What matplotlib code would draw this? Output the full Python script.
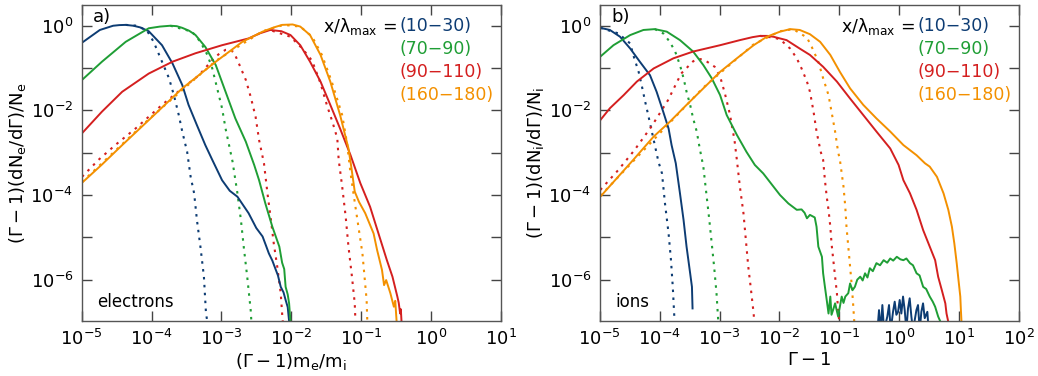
import numpy as np
import matplotlib
matplotlib.use("Agg")
import matplotlib.pyplot as plt

plt.rcParams["font.family"] = ["DejaVu Sans"]
plt.rcParams["mathtext.fontset"] = "dejavusans"
plt.rcParams["mathtext.default"] = "regular"

# Colours of the four x/lambda_max windows
c_blue, c_green, c_red, c_orange = "#0d3c73", "#1f9e35", "#d41f1f", "#f39000"
windows = ["(10\u221230)", "(70\u221290)", "(90\u2212110)", "(160\u2212180)"]

# ---- data, stored as log10(x), log10(y) ----
# panel a) electrons
ele_blue_lx = [-4.995, -4.74, -4.55, -4.46, -4.37, -4.26, -4.16, -4.04, -3.85, -3.70, -3.56, -3.47, -3.35, -3.23, -3.13,
               -2.99, -2.88, -2.77, -2.61, -2.50, -2.41, -2.36, -2.32, -2.27, -2.22, -2.19, -2.15, -2.11, -2.08, -2.05, -2.03]
ele_blue_ly = [-0.40, -0.10, 0.0, 0.015, 0.02, 0.0, -0.04, -0.13, -0.46, -0.89, -1.40, -1.87, -2.35, -2.82, -3.17,
               -3.65, -3.90, -4.04, -4.43, -4.78, -4.98, -5.20, -5.38, -5.55, -5.77, -5.90, -6.17, -6.30, -6.48, -6.65, -6.98]
ele_blue_fit_lx = [-4.37, -4.20, -4.06, -3.97, -3.85, -3.75, -3.68, -3.61, -3.56, -3.49, -3.44, -3.39, -3.35, -3.30, -3.25, -3.22, -3.20]
ele_blue_fit_ly = [0.02, 0.0, -0.13, -0.38, -0.85, -1.24, -1.64, -2.11, -2.50, -2.98, -3.57, -3.96, -4.59, -5.22, -5.93, -6.80, -7.00]

ele_green_lx = [-4.995, -4.71, -4.37, -4.04, -3.88, -3.73, -3.64, -3.56, -3.46, -3.37, -3.23, -3.08, -2.94, -2.80, -2.65,
                -2.53, -2.46, -2.37, -2.27, -2.17, -2.13, -2.10, -2.08, -2.05, -2.03, -2.01]
ele_green_ly = [-1.28, -0.85, -0.38, -0.06, -0.02, 0.0, -0.01, -0.05, -0.12, -0.22, -0.50, -0.93, -1.56, -2.19, -2.74,
                -3.29, -3.65, -4.20, -4.75, -5.22, -5.60, -5.75, -6.17, -6.35, -6.56, -7.00]
ele_green_fit_lx = [-3.73, -3.42, -3.30, -3.20, -3.13, -3.06, -2.99, -2.94, -2.89, -2.84, -2.77, -2.72, -2.68, -2.63, -2.58, -2.57]
ele_green_fit_ly = [0.0, -0.14, -0.38, -0.69, -1.01, -1.48, -1.95, -2.43, -2.82, -3.21, -3.96, -4.59, -5.22, -5.93, -6.72, -7.00]

ele_red_lx = [-4.995, -4.71, -4.42, -4.04, -3.70, -3.37, -2.99, -2.61, -2.45, -2.30, -2.14, -2.01, -1.87, -1.73, -1.58,
              -1.44, -1.30, -1.15, -1.01, -0.87, -0.75, -0.63, -0.55, -0.48, -0.46, -0.44, -0.43, -0.42]
ele_red_ly = [-2.54, -2.03, -1.56, -1.13, -0.85, -0.65, -0.46, -0.30, -0.18, -0.10, -0.13, -0.22, -0.46, -0.85, -1.32,
              -1.87, -2.43, -3.06, -3.72, -4.28, -4.91, -5.54, -5.93, -6.40, -6.55, -6.80, -6.70, -7.00]
ele_red_fit1_lx = [-4.995, -4.76, -4.52, -4.23, -3.85, -3.56, -3.32, -3.13, -3.03, -2.94, -2.88, -2.82, -2.75, -2.65,
                   -2.58, -2.51, -2.46, -2.39, -2.34, -2.29, -2.25, -2.20, -2.15, -2.13, -2.12]
ele_red_fit1_ly = [-3.57, -3.17, -2.82, -2.43, -1.87, -1.48, -1.17, -0.81, -0.66, -0.57, -0.56, -0.63, -0.89, -1.28,
                   -1.68, -2.15, -2.70, -3.25, -3.96, -4.59, -5.14, -5.69, -6.32, -6.80, -7.00]
ele_red_fit2_lx = [-2.27, -2.01, -1.84, -1.70, -1.58, -1.49, -1.41, -1.34, -1.32, -1.27, -1.22, -1.18, -1.13, -1.09, -1.08]
ele_red_fit2_ly = [-0.12, -0.26, -0.54, -0.83, -1.36, -1.87, -2.27, -2.66, -3.17, -3.80, -4.51, -5.22, -5.93, -6.56, -7.00]

ele_orange_lx = [-4.995, -4.71, -4.42, -4.04, -3.56, -3.08, -2.70, -2.41, -2.25, -2.13, -1.98, -1.87, -1.73, -1.58,
                 -1.44, -1.30, -1.18, -1.14, -1.09, -1.03, -0.94, -0.82, -0.77, -0.70, -0.67, -0.64, -0.58, -0.53,
                 -0.51, -0.49]
ele_orange_ly = [-3.71, -3.28, -2.82, -2.23, -1.48, -0.85, -0.38, -0.14, -0.04, 0.02, 0.03, -0.02, -0.22, -0.69,
                 -1.32, -2.11, -2.90, -3.33, -3.92, -4.16, -4.43, -4.91, -5.30, -5.77, -6.13, -6.01, -6.32, -6.64,
                 -6.50, -7.00]
ele_orange_fit_lx = [-4.995, -4.04, -3.08, -2.41, -2.11, -1.87, -1.70, -1.56, -1.42, -1.27, -1.20, -1.15, -1.08,
                     -1.03, -0.98, -0.95, -0.92, -0.91]
ele_orange_fit_ly = [-3.69, -2.21, -0.83, -0.13, 0.02, -0.02, -0.26, -0.69, -1.32, -2.11, -2.78, -3.49, -4.28,
                     -4.83, -5.38, -5.93, -6.48, -7.00]

# panel b) ions
ion_blue_lx = [-4.99, -4.83, -4.66, -4.49, -4.33, -4.16, -4.05, -3.94, -3.85, -3.80, -3.73, -3.66, -3.60, -3.55,
               -3.49, -3.46, -3.45]
ion_blue_ly = [-0.05, -0.10, -0.26, -0.54, -0.85, -1.17, -1.56, -2.03, -2.43, -2.82, -3.25, -3.96, -4.59, -5.22,
               -5.85, -6.17, -6.68]
ion_blue_fit_lx = [-4.99, -4.69, -4.49, -4.44, -4.35, -4.30, -4.24, -4.19, -4.13, -4.08, -4.02, -3.96, -3.91, -3.85,
                   -3.81, -3.78, -3.76, -3.75]
ion_blue_fit_ly = [-0.05, -0.18, -0.42, -0.69, -1.09, -1.40, -1.80, -2.11, -2.50, -2.82, -3.21, -3.49, -4.20, -4.91,
                   -5.54, -6.17, -6.72, -7.00]
ion_blue_tail_lx = [-0.364, -0.337, -0.309, -0.281, -0.253, -0.198, -0.170, -0.142, -0.103, -0.075, -0.047, -0.019,
                    0.008, 0.036, 0.064, 0.092, 0.120, 0.147, 0.175, 0.203, 0.231, 0.287, 0.314, 0.342, 0.370,
                    0.398, 0.426, 0.470, 0.492]
ion_blue_tail_ly = [-7.2, -6.72, -7.2, -6.60, -7.2, -6.87, -6.60, -7.2, -6.76, -6.52, -6.83, -6.76, -6.48, -6.80,
                    -6.40, -6.72, -7.2, -6.68, -6.44, -6.87, -7.2, -6.72, -6.60, -7.2, -6.76, -6.56, -6.91, -6.76, -7.2]

ion_green_lx = [-4.99, -4.77, -4.49, -4.27, -4.08, -3.88, -3.66, -3.44, -3.27, -3.13, -2.99, -2.88, -2.71, -2.55,
                -2.41, -2.27, -2.10, -1.99, -1.85, -1.71, -1.63, -1.58, -1.54, -1.49, -1.41, -1.38, -1.35, -1.29,
                -1.27, -1.24, -1.21, -1.18, -1.15, -1.13, -1.10, -1.07, -1.02, -0.96, -0.93, -0.90, -0.85, -0.82,
                -0.78, -0.74, -0.70, -0.65, -0.61, -0.57, -0.53, -0.49, -0.44, -0.38, -0.32, -0.26, -0.20, -0.15,
                -0.10, -0.04, 0.02, 0.07, 0.12, 0.18, 0.23, 0.29, 0.34, 0.40, 0.45, 0.51, 0.56, 0.60, 0.65, 0.69]
ion_green_ly = [-0.73, -0.46, -0.22, -0.10, -0.08, -0.14, -0.34, -0.61, -0.93, -1.24, -1.64, -2.11, -2.58, -2.98,
                -3.29, -3.49, -3.80, -4.00, -4.20, -4.35, -4.34, -4.42, -4.55, -4.47, -4.53, -4.75, -5.22, -5.46,
                -5.85, -6.17, -6.48, -6.80, -6.40, -6.83, -6.70, -6.56, -6.87, -6.40, -6.55, -6.40, -6.32, -6.09,
                -6.25, -6.17, -6.00, -5.93, -6.02, -5.85, -5.95, -5.73, -5.80, -5.61, -5.66, -5.54, -5.60, -5.50,
                -5.55, -5.46, -5.52, -5.54, -5.50, -5.61, -5.66, -5.85, -5.90, -6.17, -6.22, -6.40, -6.52, -6.64,
                -6.87, -7.00]
ion_green_fit_lx = [-4.08, -3.94, -3.83, -3.74, -3.66, -3.60, -3.55, -3.49, -3.44, -3.38, -3.33, -3.27, -3.22,
                    -3.17, -3.13, -3.09, -3.05, -3.02]
ion_green_fit_ly = [-0.08, -0.18, -0.38, -0.61, -0.93, -1.24, -1.56, -1.87, -2.19, -2.50, -2.90, -3.33, -3.96,
                    -4.59, -5.14, -5.69, -6.32, -7.00]

ion_red_lx = [-4.99, -4.83, -4.60, -4.38, -4.10, -3.77, -3.44, -2.99, -2.66, -2.45, -2.32, -2.20, -2.10, -1.88,
              -1.66, -1.49, -1.27, -1.04, -0.82, -0.60, -0.38, -0.15, -0.01, 0.07, 0.18, 0.29, 0.40, 0.51, 0.60,
              0.65, 0.71, 0.77, 0.79, 0.82]
ion_red_ly = [-2.23, -1.95, -1.64, -1.32, -1.01, -0.77, -0.61, -0.46, -0.34, -0.27, -0.24, -0.24, -0.26, -0.34,
              -0.54, -0.69, -0.97, -1.32, -1.72, -2.11, -2.50, -2.90, -3.29, -3.65, -3.96, -4.35, -4.83, -5.22,
              -5.54, -5.93, -6.24, -6.56, -6.80, -7.00]
ion_red_fit1_lx = [-4.99, -4.69, -4.42, -4.14, -3.86, -3.64, -3.44, -3.35, -3.25, -3.08, -2.99, -2.91, -2.83, -2.75,
                   -2.71, -2.66, -2.60, -2.56, -2.52, -2.48, -2.43, -2.42]
ion_red_fit1_ly = [-3.88, -3.41, -2.94, -2.39, -1.76, -1.13, -0.84, -0.78, -0.81, -0.97, -1.20, -1.60, -2.07,
                   -2.70, -3.17, -3.80, -4.43, -5.06, -5.69, -6.17, -6.80, -7.00]
ion_red_fit2_lx = [-2.32, -2.10, -1.99, -1.82, -1.71, -1.63, -1.54, -1.49, -1.43, -1.38, -1.31, -1.27, -1.24,
                   -1.21, -1.18, -1.15, -1.13, -1.10, -1.07, -1.04, -1.02, -1.00]
ion_red_fit2_ly = [-0.24, -0.28, -0.32, -0.54, -0.77, -1.01, -1.32, -1.56, -2.03, -2.50, -2.98, -3.17, -3.65,
                   -4.04, -4.35, -4.75, -5.14, -5.54, -5.93, -6.32, -6.72, -7.00]

ion_orange_lx = [-4.99, -4.44, -4.10, -3.83, -3.55, -3.27, -2.99, -2.71, -2.43, -2.21, -1.99, -1.82, -1.66, -1.49,
                 -1.32, -1.15, -0.99, -0.82, -0.60, -0.38, -0.15, 0.07, 0.29, 0.43, 0.51, 0.63, 0.74, 0.82, 0.88,
                 0.92, 0.96, 0.99, 1.02, 1.03, 1.04]
ion_orange_ly = [-4.04, -3.17, -2.62, -2.27, -1.87, -1.48, -1.09, -0.77, -0.46, -0.26, -0.14, -0.08, -0.10, -0.20,
                 -0.38, -0.69, -1.09, -1.48, -1.87, -2.19, -2.50, -2.82, -3.06, -3.25, -3.33, -3.57, -3.96, -4.35,
                 -4.75, -5.14, -5.61, -6.01, -6.40, -6.72, -7.00]
ion_orange_fit_lx = [-4.99, -3.27, -2.43, -1.99, -1.77, -1.54, -1.46, -1.35, -1.27, -1.18, -1.13, -1.07, -1.02,
                     -0.99, -0.93, -0.90, -0.88, -0.85, -0.82, -0.79, -0.77, -0.75]
ion_orange_fit_ly = [-4.02, -1.46, -0.44, -0.13, -0.08, -0.28, -0.50, -0.85, -1.24, -1.64, -2.03, -2.50, -2.98,
                     -3.17, -3.80, -4.28, -4.75, -5.22, -5.69, -6.17, -6.56, -7.00]

electron_fits = [(ele_blue_fit_lx, ele_blue_fit_ly, c_blue), (ele_green_fit_lx, ele_green_fit_ly, c_green),
                 (ele_red_fit1_lx, ele_red_fit1_ly, c_red), (ele_red_fit2_lx, ele_red_fit2_ly, c_red),
                 (ele_orange_fit_lx, ele_orange_fit_ly, c_orange)]
electron_lines = [(ele_blue_lx, ele_blue_ly, c_blue), (ele_green_lx, ele_green_ly, c_green),
                  (ele_red_lx, ele_red_ly, c_red), (ele_orange_lx, ele_orange_ly, c_orange)]
ion_fits = [(ion_blue_fit_lx, ion_blue_fit_ly, c_blue), (ion_green_fit_lx, ion_green_fit_ly, c_green),
            (ion_red_fit1_lx, ion_red_fit1_ly, c_red), (ion_red_fit2_lx, ion_red_fit2_ly, c_red),
            (ion_orange_fit_lx, ion_orange_fit_ly, c_orange)]
ion_lines = [(ion_blue_lx, ion_blue_ly, c_blue), (ion_blue_tail_lx, ion_blue_tail_ly, c_blue),
             (ion_green_lx, ion_green_ly, c_green), (ion_red_lx, ion_red_ly, c_red),
             (ion_orange_lx, ion_orange_ly, c_orange)]

fig = plt.figure(figsize=(10.38, 3.76), dpi=100)
ax1 = fig.add_axes([81.7 / 1038, 55.3 / 376, 419 / 1038, 315.7 / 376])
ax2 = fig.add_axes([599.7 / 1038, 55.3 / 376, 419.3 / 1038, 315.7 / 376])


def draw_panel(ax, fits, lines, xmax_exp, xlabel, ylabel, tag, species):
    for lx, ly, col in fits:
        ax.plot(10 ** np.array(lx), 10 ** np.array(ly), color=col, lw=1.5, linestyle=(0, (1.2, 2.6)))
    for lx, ly, col in lines:
        ax.plot(10 ** np.array(lx), 10 ** np.array(ly), color=col, lw=1.4)
    ax.set_xscale("log")
    ax.set_yscale("log")
    ax.set_xlim(1e-5, 10.0 ** xmax_exp)
    ax.set_ylim(10 ** -6.97, 10 ** 0.49)
    xt = [10.0 ** k for k in range(-5, xmax_exp + 1)]
    ax.set_xticks(xt)
    ax.set_xticklabels([r"$10^{%d}$" % k for k in range(-5, xmax_exp + 1)])
    yexp = list(range(-6, 1))
    ax.set_yticks([10.0 ** k for k in yexp])
    ax.set_yticklabels([r"$10^{%d}$" % k if k % 2 == 0 else "" for k in yexp])
    ax.minorticks_off()
    ax.tick_params(which="major", direction="in", length=7, width=1.0, color="#444444",
                   top=True, right=True, labelsize=13, pad=6)
    for sp in ax.spines.values():
        sp.set_color("#555555")
        sp.set_linewidth(1.0)
    ax.set_xlabel(xlabel, fontsize=13, labelpad=1)
    ax.set_ylabel(ylabel, fontsize=13, labelpad=2)
    ax.text(0.027, 0.962, tag, transform=ax.transAxes, fontsize=13, ha="left", va="center")
    ax.text(0.038, 0.06, species, transform=ax.transAxes, fontsize=12, ha="left", va="center")
    ax.text(0.752, 0.933, r"$x/\lambda_{max}$ =", transform=ax.transAxes, fontsize=12.5,
            ha="right", va="center")
    for i, (lab, col) in enumerate(zip(windows, [c_blue, c_green, c_red, c_orange])):
        ax.text(0.758, 0.933 - i * 0.0727, lab, transform=ax.transAxes, fontsize=12.5,
                color=col, ha="left", va="center")


draw_panel(ax1, electron_fits, electron_lines, 1, r"$(\Gamma-1)m_e/m_i$",
           r"$(\Gamma-1)(dN_e/d\Gamma)/N_e$", "a)", "electrons")
draw_panel(ax2, ion_fits, ion_lines, 2, r"$\Gamma-1$",
           r"$(\Gamma-1)(dN_i/d\Gamma)/N_i$", "b)", "ions")

fig.savefig("out.png", dpi=100)
